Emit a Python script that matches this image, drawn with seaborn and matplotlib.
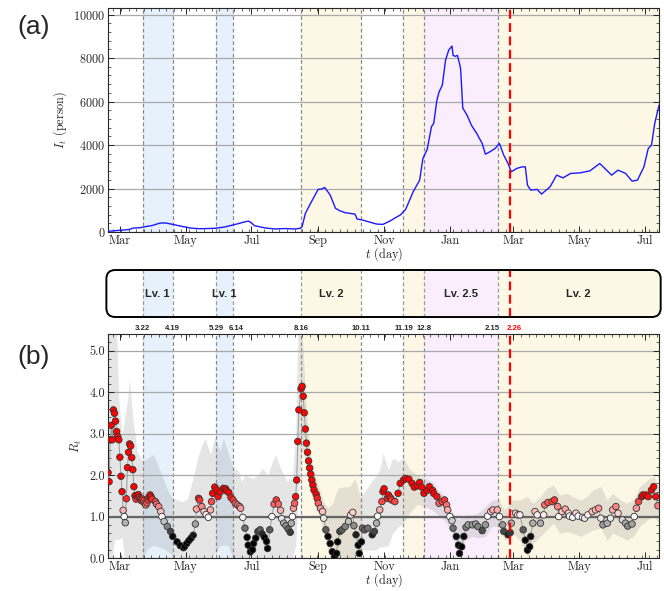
import numpy as np
import pandas as pd
import seaborn as sns
import matplotlib
matplotlib.use('Agg')
import matplotlib.pyplot as plt
import matplotlib.dates as mdates
from matplotlib.ticker import AutoMinorLocator, FormatStrFormatter
from matplotlib.colors import LinearSegmentedColormap, Normalize
from matplotlib.patches import FancyBboxPatch

# day offsets are counted from START
START = '2020-02-19'
END = '2021-07-14'

# infected I_t (person)
it_day = [0, 6, 16, 20, 23, 30, 36, 41, 48, 53, 60, 67, 76, 85, 99, 108, 118, 127, 130, 132,
          136, 146, 155, 164, 173, 178, 180, 183, 187, 195, 197, 201, 206, 211, 215, 220, 229, 231,
          236, 249, 255, 262, 267, 271, 276, 283, 289, 292, 296, 300, 302, 305, 307, 310, 313, 316,
          319, 320, 322, 324, 326, 327, 329, 333, 337, 342, 347, 350, 354, 359, 363, 367, 371, 374,
          379, 384, 387, 389, 392, 398, 402, 410, 416, 422, 429, 438, 447, 456, 463, 467, 473, 480,
          486, 491, 497, 501, 504, 507, 511]
it_val = [30, 60, 100, 120, 180, 200, 260, 300, 410, 420, 353, 275, 185, 150, 170, 230, 350, 470, 500, 460,
          290, 185, 140, 160, 140, 170, 250, 857, 1240, 1974, 1960, 2050, 1700, 1088, 978, 887, 826, 600,
          551, 367, 352, 520, 673, 780, 1042, 1850, 2387, 3382, 3800, 4850, 4989, 6059, 6441, 6747, 7900, 8370,
          8551, 8124, 8078, 8124, 7741, 7500, 5700, 5370, 4911, 4529, 4071, 3580, 3686, 3842, 4071, 3534, 3153, 2768,
          2924, 2997, 2997, 2157, 1928, 1958, 1744, 2080, 2616, 2492, 2694, 2722, 2814, 3153, 2814, 2616, 2846, 2694,
          2341, 2387, 2997, 3842, 3993, 4989, 5829]

# reproduction number R_t
rt_day = [0, 1, 2, 3, 4, 5, 6, 7, 8, 9, 10, 11, 12, 13, 14, 15, 16, 17, 18, 19, 20, 21, 22, 23, 24,
          25, 26, 27, 28, 29, 30, 31, 32, 33, 34, 35, 36, 37, 38, 39, 40, 41, 44, 45, 47, 49, 50, 52,
          55, 58, 60, 64, 67, 70, 71, 73, 75, 77, 79, 81, 82, 84, 85, 87, 89, 91, 93, 95, 96, 97, 99,
          101, 102, 104, 107, 109, 110, 112, 114, 116, 118, 120, 122, 123, 125, 127, 129, 130, 132, 134,
          135, 137, 139, 141, 143, 145, 147, 148, 150, 152, 154, 156, 158, 160, 161, 163, 165, 167, 169,
          170, 171, 172, 173, 174, 175, 176, 177, 179, 180, 181, 182, 183, 184, 185, 186, 187, 188, 189,
          190, 191, 193, 194, 195, 197, 199, 200, 202, 204, 206, 208, 210, 212, 213, 215, 217, 220, 223,
          225, 227, 228, 230, 232, 233, 235, 236, 238, 241, 245, 247, 249, 250, 252, 254, 255, 256, 259,
          260, 262, 263, 266, 269, 271, 274, 276, 279, 282, 284, 287, 289, 291, 293, 296, 298, 301, 302,
          305, 307, 310, 312, 314, 315, 317, 319, 320, 323, 325, 326, 328, 330, 332, 334, 338, 341, 343,
          347, 350, 352, 355, 357, 361, 363, 366, 367, 371, 373, 374, 375, 378, 380, 382, 385, 387, 389,
          391, 392, 394, 396, 398, 401, 404, 405, 408, 412, 414, 417, 418, 421, 424, 427, 428, 431, 434,
          436, 440, 442, 445, 449, 452, 455, 457, 459, 463, 466, 468, 471, 473, 477, 480, 482, 486, 488,
          490, 492, 495, 496, 499, 501, 504, 506, 508, 510]
rt_val = [2.06, 1.84, 2.85, 3.20, 2.85, 3.57, 3.49, 3.30, 3.05, 2.93, 2.85, 2.43, 1.97, 1.60, 1.15, 1.00,
          0.85, 1.43, 2.18, 2.55, 2.75, 2.70, 2.42, 2.13, 1.72, 1.50, 1.42, 1.50, 1.53, 1.46, 1.42, 1.38,
          1.42, 1.38, 1.32, 1.28, 1.33, 1.40, 1.47, 1.52, 1.47, 1.42, 1.36, 1.30, 1.24, 1.12, 1.00, 0.88,
          0.76, 0.64, 0.52, 0.39, 0.30, 0.25, 0.28, 0.35, 0.42, 0.48, 0.55, 0.82, 1.18, 1.44, 1.40, 1.24,
          1.12, 1.05, 0.98, 1.16, 1.36, 1.56, 1.71, 1.64, 1.48, 1.59, 1.68, 1.67, 1.62, 1.58, 1.46, 1.40,
          1.32, 1.28, 1.24, 1.20, 0.98, 0.72, 0.50, 0.31, 0.15, 0.20, 0.35, 0.48, 0.64, 0.68, 0.58, 0.50,
          0.40, 0.23, 0.68, 1.00, 1.30, 1.40, 1.30, 1.15, 0.95, 0.84, 0.78, 0.70, 0.62, 0.84, 1.00, 1.20,
          1.32, 1.48, 1.88, 2.81, 3.57, 4.08, 4.14, 3.90, 3.50, 3.11, 2.77, 2.55, 2.34, 2.17, 2.02, 1.88,
          1.76, 1.64, 1.54, 1.44, 1.32, 1.20, 1.12, 0.96, 0.68, 0.52, 0.35, 0.15, 0.03, 0.11, 0.39, 0.64,
          0.68, 0.76, 0.88, 1.04, 1.10, 0.78, 0.56, 0.31, 0.11, 0.39, 0.72, 0.68, 0.72, 0.56, 0.64, 0.84,
          1.01, 1.16, 1.36, 1.60, 1.67, 1.44, 1.52, 1.45, 1.40, 1.36, 1.56, 1.80, 1.88, 1.92, 1.90, 1.80,
          1.71, 1.74, 1.82, 1.71, 1.56, 1.63, 1.72, 1.63, 1.56, 1.48, 1.32, 1.36, 1.40, 1.28, 1.16, 1.00,
          0.90, 0.72, 0.52, 0.31, 0.11, 0.27, 0.52, 0.74, 0.80, 0.80, 0.82, 0.76, 0.66, 0.80, 1.01, 1.12,
          1.16, 1.16, 1.00, 0.80, 0.64, 0.56, 0.61, 0.84, 1.06, 1.08, 1.04, 1.04, 0.68, 0.43, 0.19, 0.27,
          0.52, 0.84, 1.12, 1.04, 0.84, 1.04, 1.28, 1.34, 1.36, 1.40, 1.24, 1.00, 1.12, 1.18, 1.08, 1.01,
          0.98, 1.08, 1.01, 0.98, 0.96, 1.04, 1.12, 1.16, 1.20, 0.96, 0.80, 0.84, 0.96, 1.16, 1.24, 1.08,
          0.92, 0.84, 0.77, 0.82, 1.00, 1.20, 1.36, 1.48, 1.52, 1.52, 1.48, 1.64, 1.72, 1.48, 1.26]

# credible interval of R_t
ci_day = [0, 4, 6, 8, 10, 13, 15, 18, 20, 23, 27, 32, 37, 42, 46, 51, 56, 60, 69, 74, 78, 83, 87, 90,
          95, 99, 104, 107, 111, 116, 121, 124, 127, 134, 139, 143, 148, 155, 160, 166, 171, 174, 176,
          179, 181, 183, 186, 189, 193, 197, 200, 204, 208, 213, 220, 224, 229, 234, 238, 243, 249, 252,
          255, 260, 264, 269, 274, 280, 287, 294, 301, 306, 313, 319, 325, 331, 338, 343, 350, 356, 362,
          368, 375, 382, 389, 394, 401, 407, 413, 419, 426, 431, 438, 444, 450, 457, 463, 468, 475, 481,
          487, 493, 500, 506, 511]
ci_lo = [0.0, 0.0, 0.45, 0.45, 0.45, 0.5, 0.0, 0.0, 0.0, 0.0, 0.0, 0.0, 0.23, 0.31, 0.28, 0.23, 0.15,
         0.05, 0.0, 0.0, 0.0, 0.0, 0.0, 0.0, 0.0, 0.1, 0.31, 0.31, 0.31, 0.0, 0.0, 0.0, 0.0, 0.0, 0.0,
         0.0, 0.0, 0.0, 0.0, 0.0, 0.0, 0.3, 1.2, 2.5, 2.6, 2.3, 1.8, 1.5, 1.2, 0.9, 0.6, 0.2, 0.0, 0.0,
         0.0, 0.0, 0.0, 0.19, 0.19, 0.19, 0.19, 0.27, 0.27, 0.3, 0.6, 0.75, 0.84, 1.1, 1.3, 1.24, 1.16,
         1.04, 0.88, 0.6, 0.03, 0.43, 0.52, 0.48, 0.52, 0.76, 0.76, 0.43, 0.6, 0.43, 0.03, 0.35, 0.52,
         0.68, 0.84, 0.6, 0.64, 0.6, 0.52, 0.6, 0.68, 0.72, 0.43, 0.6, 0.52, 0.43, 0.52, 0.76, 0.92,
         1.0, 0.84]
ci_hi = [5.5, 5.5, 5.5, 5.5, 3.8, 2.97, 3.3, 3.8, 4.3, 3.37, 2.57, 2.33, 2.41, 2.49, 2.25, 1.92, 1.6,
         1.44, 1.36, 1.44, 1.84, 2.41, 2.73, 2.89, 2.49, 2.93, 2.57, 2.89, 2.57, 2.17, 2.09, 1.84, 2.0,
         1.92, 2.0, 2.17, 2.0, 2.49, 2.17, 1.84, 1.92, 3.0, 5.5, 5.5, 5.0, 3.9, 2.9, 2.3, 1.9, 1.6, 1.35,
         1.2, 1.3, 1.68, 1.72, 1.72, 1.92, 1.48, 1.6, 1.8, 2.0, 2.13, 2.53, 2.13, 2.41, 2.33, 2.41, 2.13,
         2.0, 1.92, 1.84, 1.64, 1.48, 1.12, 0.92, 1.04, 1.04, 1.08, 1.24, 1.4, 1.4, 1.16, 1.4, 1.4, 1.48,
         1.32, 1.48, 1.68, 1.76, 1.52, 1.56, 1.48, 1.4, 1.48, 1.64, 1.72, 1.4, 1.56, 1.4, 1.32, 1.4, 1.72,
         1.88, 1.96, 1.72]

# social distancing levels
level_start = ['2020-03-22', '2020-05-29', '2020-08-16', '2020-11-19', '2020-12-08', '2021-02-15']
level_end = ['2020-04-19', '2020-06-14', '2020-10-11', '2020-12-08', '2021-02-15', END]
level_name = ['Lv. 1', 'Lv. 1', 'Lv. 2', '', 'Lv. 2.5', 'Lv. 2']
level_color = ['#e6f1fc', '#e6f1fc', '#fdf7e5', '#fdf7e5', '#faedfc', '#fdf7e5']
change_dates = ['2020-03-22', '2020-04-19', '2020-05-29', '2020-06-14', '2020-08-16',
                '2020-10-11', '2020-11-19', '2020-12-08', '2021-02-15']
change_labels = ['3.22', '4.19', '5.29', '6.14', '8.16', '10.11', '11.19', '12.8', '2.15']
vaccine_date = '2021-02-26'
vaccine_label = '2.26'

start = pd.Timestamp(START)
it_df = pd.DataFrame({'date': start + pd.to_timedelta(it_day, unit='D'), 'I': it_val})
rt_df = pd.DataFrame({'date': start + pd.to_timedelta(rt_day, unit='D'), 'R': rt_val})
ci_dates = start + pd.to_timedelta(ci_day, unit='D')

sns.set_style('ticks')
plt.rcParams['font.family'] = ['cmr10', 'DejaVu Serif']
plt.rcParams['mathtext.fontset'] = 'cm'
plt.rcParams['axes.formatter.use_mathtext'] = True
plt.rcParams['font.size'] = 8.8
plt.rcParams['xtick.direction'] = 'in'
plt.rcParams['ytick.direction'] = 'in'
plt.rcParams['xtick.top'] = True
plt.rcParams['ytick.right'] = True
plt.rcParams['axes.linewidth'] = 0.8

SANS = ['Liberation Sans', 'DejaVu Sans']

fig = plt.figure(figsize=(6.64, 5.91), dpi=100)
ax1 = fig.add_axes([0.1627, 0.6074, 0.8298, 0.379])
ax_lv = fig.add_axes([0.1627, 0.4636, 0.8298, 0.0795], sharex=ax1)
ax2 = fig.add_axes([0.1627, 0.0558, 0.8298, 0.379], sharex=ax1)

xmin, xmax = pd.Timestamp(START), pd.Timestamp(END)


def shade(ax):
    for s, e, c in zip(level_start, level_end, level_color):
        ax.axvspan(pd.Timestamp(s), pd.Timestamp(e), color=c, lw=0, zorder=0)
    for d in change_dates:
        ax.axvline(pd.Timestamp(d), color='#8a8a8a', lw=0.9, ls=(0, (3, 2)), zorder=1.2)
    ax.axvline(pd.Timestamp(vaccine_date), color='red', lw=1.6, ls=(0, (4, 2)), zorder=6)


def style(ax):
    ax.set_axisbelow('line')
    ax.grid(axis='y', color='#a9a9a9', lw=0.9)
    ax.xaxis.set_major_locator(mdates.MonthLocator(bymonth=[1, 3, 5, 7, 9, 11]))
    ax.xaxis.set_major_formatter(mdates.DateFormatter('%b'))
    ax.xaxis.set_minor_locator(mdates.WeekdayLocator(byweekday=mdates.MO))
    ax.yaxis.set_minor_locator(AutoMinorLocator(5))
    ax.tick_params(which='major', length=4, width=0.7, labelsize=8.8, pad=2)
    ax.tick_params(which='minor', length=2, width=0.5)
    ax.set_xlim(xmin, xmax)


# (a) infected
shade(ax1)
sns.lineplot(data=it_df, x='date', y='I', ax=ax1, color='#1a1aff', lw=1.0, zorder=4)
ax1.set_ylim(0, 10300)
ax1.set_yticks(range(0, 10001, 2000))
style(ax1)
ax1.set_ylabel(r'$I_t$ (person)', labelpad=3)
ax1.set_xlabel(r'$t$ (day)', labelpad=-1)

# level bar
box = FancyBboxPatch((-0.003, 0), 1.006, 1, boxstyle='round,pad=0,rounding_size=0.016',
                     mutation_aspect=551 / 47, transform=ax_lv.transAxes,
                     facecolor='none', edgecolor='black', lw=1.4, zorder=7, clip_on=False)
ax_lv.add_patch(box)
for s, e, c, n in zip(level_start, level_end, level_color, level_name):
    sp = ax_lv.axvspan(pd.Timestamp(s), pd.Timestamp(e), color=c, lw=0, zorder=0)
    sp.set_clip_path(box)
    if n:
        mid = pd.Timestamp(s) + (pd.Timestamp(e) - pd.Timestamp(s)) / 2
        ax_lv.text(mid, 0.5, n, ha='center', va='center', fontsize=8, fontweight='bold',
                   family=SANS, zorder=8)
nudge = {'6.14': 3, '2.15': -6}
for d, lab in zip(change_dates, change_labels):
    ln = ax_lv.axvline(pd.Timestamp(d), color='#9a9a9a', lw=0.9, ls=(0, (3, 2)), zorder=1)
    ln.set_clip_path(box)
    ax_lv.text(pd.Timestamp(d) + pd.Timedelta(days=nudge.get(lab, 0)), -0.24, lab, ha='center',
               va='center', fontsize=5.6, fontweight='bold', family=SANS)
ax_lv.axvline(pd.Timestamp(vaccine_date), color='red', lw=1.6, ls=(0, (4, 2)), zorder=6)
ax_lv.text(pd.Timestamp(vaccine_date) + pd.Timedelta(days=4), -0.24, vaccine_label, ha='center',
           va='center', fontsize=5.6, fontweight='bold', color='red', family=SANS)
ax_lv.set_ylim(0, 1)
ax_lv.set_xlim(xmin, xmax)
ax_lv.axis('off')

# (b) reproduction number
shade(ax2)
ax2.fill_between(ci_dates, ci_lo, ci_hi, color='#808080', alpha=0.2, lw=0, zorder=1)
ax2.axhline(1.0, color='#666666', lw=1.6, zorder=2)
sns.lineplot(data=rt_df, x='date', y='R', ax=ax2, color='#9a9a9a', lw=0.7, zorder=3)
cmap = LinearSegmentedColormap.from_list('rt', ['black', 'white', 'red'])
sns.scatterplot(data=rt_df, x='date', y='R', hue='R', palette=cmap,
                hue_norm=Normalize(0.5, 1.5, clip=True), ax=ax2, s=22,
                edgecolor='#333333', linewidth=0.6, legend=False, zorder=5)
ax2.set_ylim(0, 5.4)
ax2.set_yticks(np.arange(0, 5.01, 1.0))
ax2.yaxis.set_major_formatter(FormatStrFormatter('%.1f'))
style(ax2)
ax2.set_ylabel(r'$R_t$', labelpad=4)
ax2.set_xlabel(r'$t$ (day)', labelpad=-1)

fig.text(0.050, 0.955, '(a)', fontsize=19, family=SANS, ha='center', va='center')
fig.text(0.050, 0.396, '(b)', fontsize=19, family=SANS, ha='center', va='center')

fig.savefig('out.png', dpi=100)
